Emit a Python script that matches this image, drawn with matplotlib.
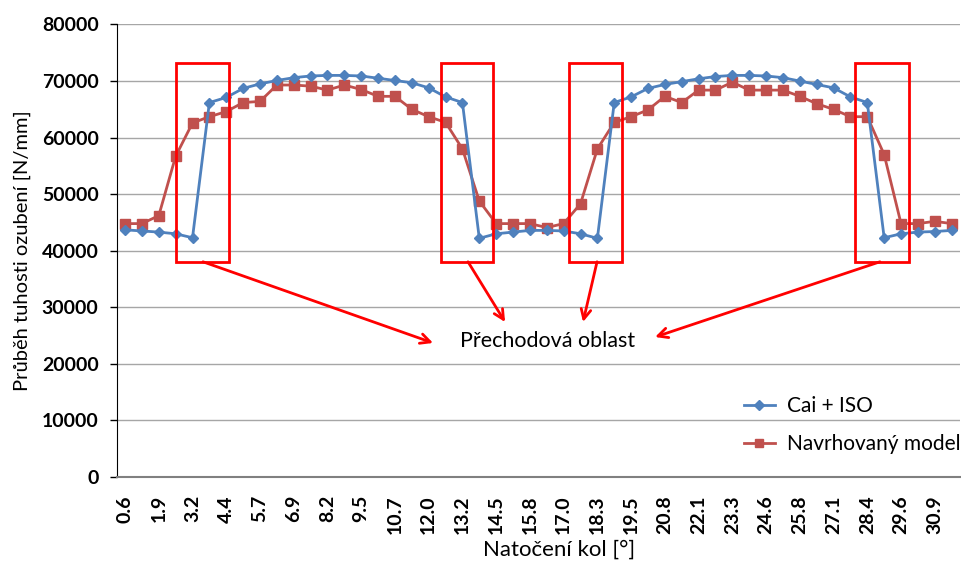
import matplotlib
matplotlib.use("Agg")
import matplotlib.pyplot as plt
import numpy as np
from matplotlib.patches import Rectangle

plt.rcParams['font.family'] = ['Lato', 'DejaVu Sans']

# category axis: 50 angle steps, every second one labelled
tick_labels = ['0.6', '1.9', '3.2', '4.4', '5.7', '6.9', '8.2', '9.5', '10.7',
               '12.0', '13.2', '14.5', '15.8', '17.0', '18.3', '19.5', '20.8',
               '22.1', '23.3', '24.6', '25.8', '27.1', '28.4', '29.6', '30.9']

cai_iso = [43700, 43500, 43300, 43000, 42300, 66200, 67100, 68700, 69500, 70100,
           70600, 70900, 71000, 71000, 70900, 70500, 70100, 69700, 68800, 67200,
           66200, 42200, 43000, 43300, 43600, 43600, 43500, 43000, 42200, 66200,
           67200, 68700, 69400, 69900, 70400, 70800, 71000, 71000, 70900, 70600,
           70000, 69400, 68800, 67200, 66200, 42300, 43000, 43300, 43400, 43600]

navrh = [44800, 44800, 46200, 56700, 62600, 63700, 64600, 66200, 66400, 69300,
         69300, 69100, 68400, 69300, 68500, 67300, 67300, 65000, 63700, 62700,
         58000, 48800, 44800, 44800, 44800, 44100, 44800, 48300, 58000, 62700,
         63700, 64900, 67300, 66200, 68400, 68400, 69800, 68400, 68400, 68400,
         67300, 66000, 65000, 63700, 63700, 57000, 44800, 44800, 45200, 44800]

x = np.arange(len(cai_iso))

fig = plt.figure(figsize=(9.62, 5.67), dpi=100)
ax = fig.add_axes([0.1212, 0.1587, 0.8768, 0.7981])

ax.plot(x, cai_iso, color='#4F81BD', lw=2.0, marker='D', ms=5.5,
        label='Cai + ISO', zorder=4)
ax.plot(x, navrh, color='#C0504D', lw=2.0, marker='s', ms=7,
        label='Navrhovaný model', zorder=3)

ax.set_xlim(-0.5, len(x) - 0.5)
ax.set_ylim(0, 80000)
ax.set_yticks(np.arange(0, 80001, 10000))
ax.set_xticks(x[::2])
ax.set_xticklabels(tick_labels, rotation=90, fontsize=14, fontweight='bold')
for t in ax.get_yticklabels():
    t.set_fontsize(14)
    t.set_fontweight('bold')
ax.tick_params(axis='x', length=0, pad=13)
ax.tick_params(axis='y', length=5, width=1, pad=8, direction='out')

ax.grid(axis='y', color='#a6a6a6', lw=1)
ax.set_axisbelow(True)
for s in ['top', 'right']:
    ax.spines[s].set_visible(False)
ax.spines['left'].set_color('black')
ax.spines['bottom'].set_color('#808080')
ax.spines['bottom'].set_linewidth(1.5)

ax.set_xlabel('Natočení kol [°]', fontsize=16, va='top')
ax.xaxis.set_label_coords(0.5245, -0.139)
ax.set_ylabel('Průběh tuhosti ozubení [N/mm]', fontsize=14.5, labelpad=8)

# transition-zone boxes (x in category units)
boxes = [(3.0, 6.16), (18.71, 21.83), (26.34, 29.48), (43.27, 46.47)]
for x0, x1 in boxes:
    ax.add_patch(Rectangle((x0, 38050), x1 - x0, 73150 - 38050, fill=False,
                           ec='red', lw=2, zorder=5))

ax.text(25.07, 24100, 'Přechodová oblast', fontsize=15.5, ha='center',
        va='center', zorder=6)
arrows = [((4.62, 38050), (18.26, 23700)),
          ((20.33, 38050), (22.53, 27400)),
          ((27.98, 38050), (27.15, 27400)),
          ((44.75, 38050), (31.42, 24750))]
for start, end in arrows:
    ax.annotate('', xy=end, xytext=start,
                arrowprops=dict(arrowstyle='->,head_length=0.7,head_width=0.35',
                                color='red', lw=2, shrinkA=0, shrinkB=0),
                zorder=6)

ax.legend(loc='upper left', bbox_to_anchor=(0.7344, 0.197), frameon=False,
          fontsize=15, handlelength=1.45, handletextpad=0.58, labelspacing=0.875,
          borderaxespad=0, markerscale=0.9)

fig.savefig('out.png', dpi=100)
